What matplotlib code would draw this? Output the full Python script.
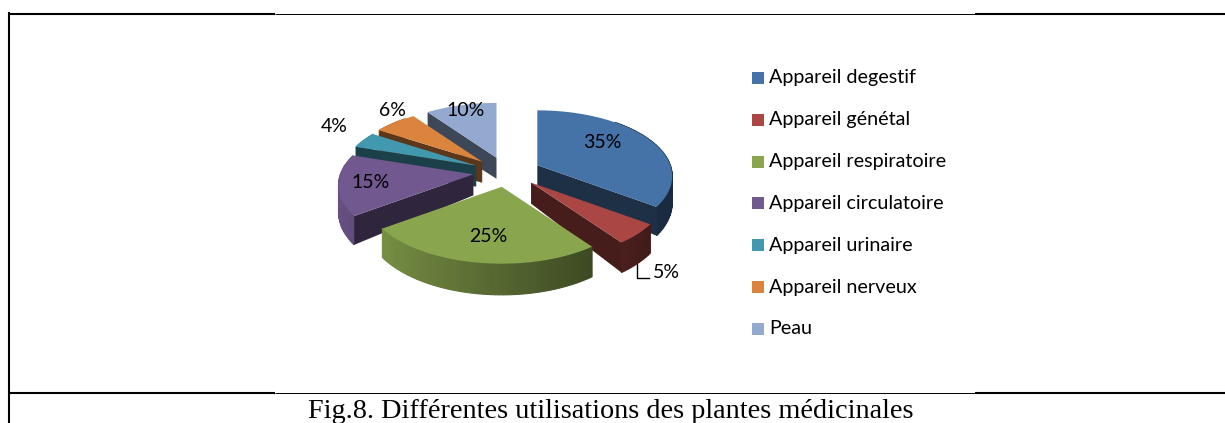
import numpy as np
import matplotlib
matplotlib.use("Agg")
import matplotlib.pyplot as plt
from matplotlib.patches import Polygon, Rectangle

categories = ["Appareil degestif", "Appareil génétal", "Appareil respiratoire", "Appareil circulatoire",
              "Appareil urinaire", "Appareil nerveux", "Peau"]
values = [35, 5, 25, 15, 4, 6, 10]
colors = ["#4572a7", "#aa4643", "#89a54e", "#71588f", "#4198af", "#db843d", "#93a9cf"]
label_xy = [(602, 143), (666, 273), (488, 237), (371, 183), (334, 126), (392, 111), (466, 110)]

CX, CY = 507, 172      # pie centre, pixels
RX, RY = 133, 64
PERSP = 0.167
EX, EY = 34, 15        # explosion
DEPTH = 26


def scale(t):
    return 1 / (1 + PERSP * np.cos(t))


def rim(t, ax0, ay0):
    s = scale(t)
    return ax0 + RX * np.sin(t) * s, ay0 - RY * np.cos(t) * s


def shade(c, f):
    return tuple(v * f for v in matplotlib.colors.to_rgb(c))


plt.rcParams["font.family"] = "Lato"
fig = plt.figure(figsize=(12.25, 4.23), dpi=100)
ax = fig.add_axes([0, 0, 1, 1])
ax.set_xlim(0, 1225)
ax.set_ylim(423, 0)
ax.axis("off")

# table borders
for y in (14, 393):
    ax.plot([8, 275], [y, y], color="black", lw=1.5, solid_capstyle="butt")
    ax.plot([275, 975], [y, y], color="black", lw=0.7, solid_capstyle="butt")
    ax.plot([975, 1225], [y, y], color="black", lw=1.5, solid_capstyle="butt")
ax.plot([9, 9], [13, 423], color="black", lw=1.5)

# slices, back to front
fr = np.array(values) / sum(values) * 2 * np.pi
ends = np.cumsum(fr)
starts = ends - fr
mids = (starts + ends) / 2
for i in np.argsort(-np.cos(mids)):
    c = colors[i]
    t0, t1 = starts[i], ends[i]
    ax0 = CX + EX * np.sin(mids[i])
    ay0 = CY - EY * np.cos(mids[i])
    ts = np.linspace(t0, t1, max(int((t1 - t0) * 40), 6))
    xs, ys = rim(ts, ax0, ay0)
    # outer wall, one quad per step so the light can change
    for j in range(len(ts) - 1):
        if np.cos(ts[j]) > 0.75 and np.cos(ts[j + 1]) > 0.75:
            continue  # back of the pie, hidden
        f = np.clip(0.62 - 0.3 * np.sin(ts[j]), 0.38, 0.9)
        d0, d1 = DEPTH * scale(ts[j]), DEPTH * scale(ts[j + 1])
        ax.add_patch(Polygon([(xs[j], ys[j]), (xs[j + 1], ys[j + 1]), (xs[j + 1], ys[j + 1] + d1), (xs[j], ys[j] + d0)],
                             fc=shade(c, f), ec=shade(c, f), lw=0.8))
    # cut faces
    for t, vis in ((t0, np.sin(t0) < 0), (t1, np.sin(t1) > 0)):
        if vis:
            x, y = rim(t, ax0, ay0)
            d = DEPTH * scale(t)
            ax.add_patch(Polygon([(ax0, ay0), (x, y), (x, y + d), (ax0, ay0 + 21)],
                                 fc=shade(c, 0.42), ec="none"))
    ax.add_patch(Polygon(np.column_stack([np.r_[ax0, xs], np.r_[ay0, ys]]), fc=c, ec="none"))

for v, (x, y) in zip(values, label_xy):
    ax.text(x, y, f"{v}%", ha="center", va="center", fontsize=14, color="black", zorder=5)

# leader for the 5% label
ax.plot([637, 637, 649], [264, 278, 278], color="black", lw=1, zorder=5)

# legend
for i, (name, c) in enumerate(zip(categories, colors)):
    y = 78 + i * 41.8
    ax.add_patch(Rectangle((752, y - 6), 12, 12, fc=c, ec="none"))
    ax.text(769, y, name, ha="left", va="center", fontsize=14.2, color="black")

ax.text(611, 412, "Fig.8. Différentes utilisations des plantes médicinales", ha="center", va="center",
        fontsize=20.3, family="Liberation Serif", color="black")

fig.savefig("out.png", dpi=100)
plt.close(fig)
